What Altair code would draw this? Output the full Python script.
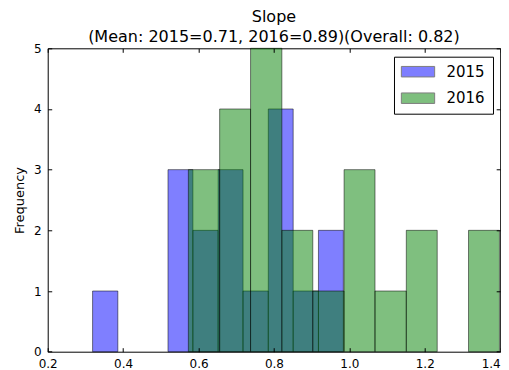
import altair as alt
import pandas as pd

# ---- data ----
years = ["2015", "2016"]
colors = ["#0000ff", "#008000"]
edges_2015 = [0.319, 0.386, 0.452, 0.519, 0.585, 0.652, 0.718, 0.785, 0.851, 0.918, 0.984]
counts_2015 = [1, 0, 0, 3, 2, 3, 1, 4, 1, 2]
edges_2016 = [0.573, 0.656, 0.738, 0.821, 0.903, 0.986, 1.068, 1.151, 1.233, 1.316, 1.398]
counts_2016 = [3, 4, 5, 2, 1, 3, 1, 2, 0, 2]
x_ticks = [0.2, 0.4, 0.6, 0.8, 1.0, 1.2, 1.4]
y_ticks = [0, 1, 2, 3, 4, 5]
title_lines = ["Slope", "(Mean: 2015=0.71, 2016=0.89)(Overall: 0.82)"]
y_title = "Frequency"

rows = []
for year, edges, counts in [("2015", edges_2015, counts_2015), ("2016", edges_2016, counts_2016)]:
    for i, c in enumerate(counts):
        if c > 0:
            rows.append({"year": year, "start": edges[i], "end": edges[i + 1], "count": c})
df = pd.DataFrame(rows)

FONT = "DejaVu Sans"
TICK_IN = {"expr": "-4"}
x_scale = alt.Scale(domain=[0.2, 1.4], nice=False, zero=False)
y_scale = alt.Scale(domain=[0, 5], nice=False)

common_axis = dict(
    domain=False, grid=False, zindex=1, tickColor="black", tickWidth=1,
    tickSize=TICK_IN, labelFont=FONT, labelFontSize=12, labelColor="black",
    labelFlush=False, labelOverlap=False,
)

bars = alt.Chart(df).mark_rect(
    fillOpacity=0.5, stroke="black", strokeOpacity=0.5, strokeWidth=1
).encode(
    x=alt.X("start:Q", scale=x_scale,
            axis=alt.Axis(orient="bottom", values=x_ticks, format=".1f", title=None,
                          labelPadding=11,
                          labelAlign={"expr": "datum.value >= 1.39 ? 'right' : 'center'"},
                          **common_axis)),
    x2="end:Q",
    y=alt.Y("count:Q", scale=y_scale,
            axis=alt.Axis(orient="left", values=y_ticks, format="d", title=y_title,
                          labelPadding=10.7, titleFont=FONT, titleFontSize=13,
                          titleFontWeight="normal", titleColor="black",
                          titleX=-28.5, titleBaseline="middle", **common_axis)),
    y2=alt.datum(0),
    color=alt.Color("year:N", scale=alt.Scale(domain=years, range=colors),
                    legend=alt.Legend(
                        title=None, orient="none", legendX=346.3, legendY=8.4,
                        direction="vertical", fillColor="white", strokeColor="black",
                        padding=7.5, cornerRadius=0,
                        symbolType="M-2.775,-0.875L2.775,-0.875L2.775,0.875L-2.775,0.875Z",
                        symbolSize=144, symbolOffset=9, labelOffset=21,
                        symbolOpacity=0.5, symbolStrokeColor="black", symbolStrokeWidth=1,
                        labelFont=FONT, labelFontSize=15, labelColor="black",
                        rowPadding=10.5)),
)

frame = alt.Chart(df).mark_point(opacity=0).encode(
    x=alt.X("start:Q", scale=x_scale,
            axis=alt.Axis(orient="top", values=x_ticks, labels=False, title=None, **common_axis)),
    y=alt.Y("count:Q", scale=y_scale,
            axis=alt.Axis(orient="right", values=y_ticks, labels=False, title=None, **common_axis)),
)

chart = alt.layer(bars, frame).resolve_axis(x="independent", y="independent").properties(
    width=452.5, height=303.4,
    autosize=alt.AutoSizeParams(type="none"),
    padding={"left": 39.7, "top": 40.3, "right": 0.8, "bottom": 22},
    title=alt.Title(title_lines, font=FONT, fontSize=16, fontWeight="normal",
                    color="black", anchor="middle", lineHeight=20, offset=-3),
    background="white",
).configure_view(stroke="black", strokeWidth=1)

chart.save("out.html", embed_options={"renderer": "svg", "actions": False})
